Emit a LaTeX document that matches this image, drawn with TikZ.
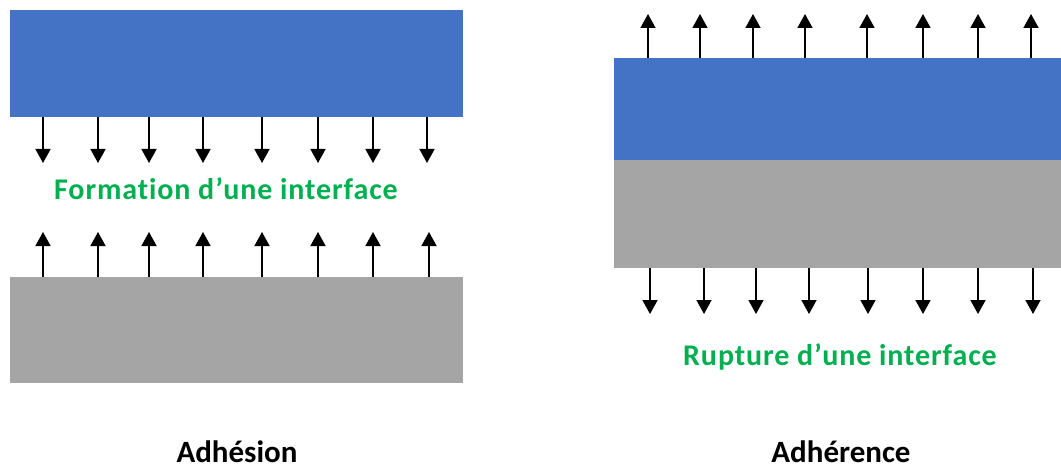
\documentclass[tikz,border=0pt]{standalone}
\usepackage{fontspec}
\setmainfont{Carlito}
\newfontfamily\spacedfont[LetterSpace=3,Ligatures=NoCommon]{Carlito}
\usetikzlibrary{arrows.meta}
\definecolor{cblue}{HTML}{4472C4}
\definecolor{cgray}{HTML}{A5A5A5}
\definecolor{cgreen}{HTML}{00B050}
\begin{document}
\begin{tikzpicture}[x=1pt,y=-1pt,
  slab/.style={draw=none,inner sep=0pt,outer sep=0pt,anchor=north west},
  force/.style={line width=1.6pt,-{Triangle[width=15pt,length=14pt]}},
  green label/.style={text=cgreen,inner sep=0pt,anchor=base,font=\spacedfont\fontsize{30}{32}\selectfont\bfseries},
  title label/.style={text=black,inner sep=0pt,anchor=base,font=\fontsize{31}{34}\selectfont\bfseries}]
\useasboundingbox (0,0) rectangle (1061,468);
% left
\node[slab,fill=cblue,minimum width=453pt,minimum height=107pt] (lb) at (10,10) {};
\node[slab,fill=cgray,minimum width=453pt,minimum height=106pt] (lg) at (10,277) {};
\foreach \x [count=\i] in {43,98,149,203,262,318,373,427}{
  \coordinate (ldA\i) at (\x,117);
  \coordinate (ldB\i) at (\x,163);
  \draw[force] (ldA\i) -- (ldB\i);
}
\foreach \x [count=\i] in {43,98,149,203,262,318,373,429}{
  \coordinate (luA\i) at (\x,277);
  \coordinate (luB\i) at (\x,232);
  \draw[force] (luA\i) -- (luB\i);
}
\node[green label] (lt) at (226,200) {Formation d’une interface};
\node[title label] (lh) at (237,462) {Adhésion};
% right
\node[slab,fill=cblue,minimum width=447pt,minimum height=102pt] (rb) at (614,58) {};
\node[slab,fill=cgray,minimum width=447pt,minimum height=108pt] (rg) at (614,160) {};
\foreach \x [count=\i] in {648,700,753,805,867,923,978,1031}{
  \coordinate (ruA\i) at (\x,58);
  \coordinate (ruB\i) at (\x,14);
  \draw[force] (ruA\i) -- (ruB\i);
}
\foreach \x [count=\i] in {650,704,756,809,868,923,978,1033}{
  \coordinate (rdA\i) at (\x,268);
  \coordinate (rdB\i) at (\x,314);
  \draw[force] (rdA\i) -- (rdB\i);
}
\node[green label] (rt) at (840,365) {Rupture d’une interface};
\node[title label] (rh) at (841,462) {Adhérence};
\end{tikzpicture}
\end{document}
